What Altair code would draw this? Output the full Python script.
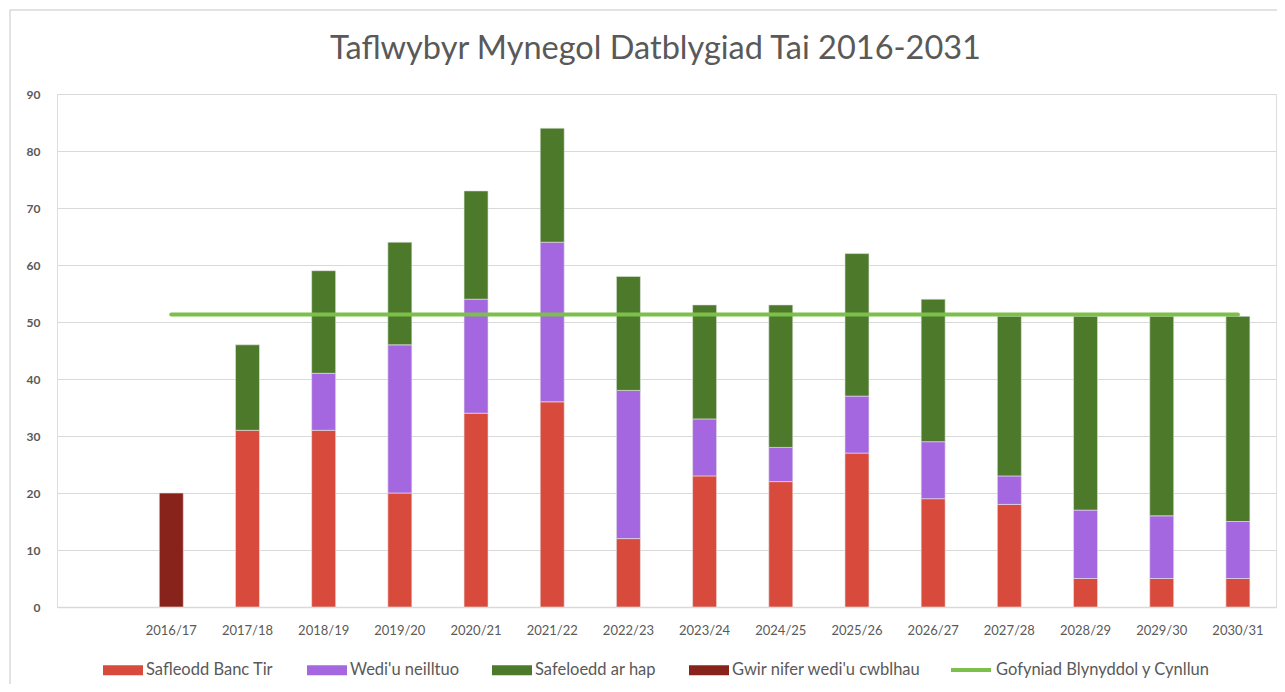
import altair as alt
import pandas as pd

years = ["2016/17", "2017/18", "2018/19", "2019/20", "2020/21", "2021/22", "2022/23",
         "2023/24", "2024/25", "2025/26", "2026/27", "2027/28", "2028/29", "2029/30", "2030/31"]
banc_tir = [0, 31, 31, 20, 34, 36, 12, 23, 22, 27, 19, 18, 5, 5, 5]
neilltuo = [0, 0, 10, 26, 20, 28, 26, 10, 6, 10, 10, 5, 12, 11, 10]
ar_hap = [0, 15, 18, 18, 19, 20, 20, 20, 25, 25, 25, 28, 34, 35, 36]
gwir = [20, 0, 0, 0, 0, 0, 0, 0, 0, 0, 0, 0, 0, 0, 0]
gofyniad = [51.3] * len(years)

series_names = ["Safleodd Banc Tir", "Wedi'u neilltuo", "Safeloedd ar hap", "Gwir nifer wedi'u cwblhau"]
series_colors = ["#D84B3C", "#A567E0", "#4C7A2A", "#88231B"]
series_order = [1, 2, 3, 0]
line_name = "Gofyniad Blynyddol y Cynllun"
line_color = "#7CC04B"

rows = []
for name, vals, o in zip(series_names, [banc_tir, neilltuo, ar_hap, gwir], series_order):
    for y, v in zip(years, vals):
        if v:
            rows.append({"year": y, "series": name, "value": v, "ord": o})
bars_df = pd.DataFrame(rows)
line_df = pd.DataFrame({"year": years, "value": gofyniad, "series": [line_name] * len(years)})

x_domain = [" "] + years
FONT = "Lato"
TXT = "#595959"

x_enc = alt.X("year:N", scale=alt.Scale(domain=x_domain, paddingInner=0, paddingOuter=0),
              axis=alt.Axis(title=None, labelAngle=0, labelFontSize=13, labelColor=TXT,
                            labelPadding=17, ticks=False, domainColor="#d9d9d9", domainWidth=1.5,
                            labelFont=FONT))

bars = alt.Chart(bars_df).mark_bar(size=24, stroke="#e6e6e6", strokeWidth=0.6).encode(
    x=x_enc,
    y=alt.Y("value:Q", stack="zero", scale=alt.Scale(domain=[0, 90]),
            axis=alt.Axis(title=None, values=list(range(0, 100, 10)), labelFontSize=12,
                          labelColor=TXT, labelPadding=17, ticks=False, domain=False,
                          gridColor="#d9d9d9", gridWidth=1.2, labelFont=FONT, labelFontWeight="bold")),
    fill=alt.Fill("series:N", scale=alt.Scale(domain=series_names, range=series_colors),
                  legend=alt.Legend(orient="none", legendX=46, legendY=556, direction="horizontal",
                                    columns=4, title=None, symbolType="M-1,-0.25H1V0.25H-1Z",
                                    symbolSize=1600, symbolStrokeWidth=0, labelFontSize=16.5,
                                    labelColor=TXT, labelFont=FONT, columnPadding=33,
                                    labelOffset=3, padding=0, labelLimit=400)),
    order=alt.Order("ord:Q", sort="ascending"),
)

line = alt.Chart(line_df).mark_line(strokeWidth=4, strokeCap="round").encode(
    x=alt.X("year:N", scale=alt.Scale(domain=x_domain)),
    y=alt.Y("value:Q"),
    stroke=alt.Stroke("series:N", scale=alt.Scale(domain=[line_name], range=[line_color]),
                      legend=alt.Legend(orient="none", legendX=892, legendY=554, title=None,
                                        symbolType="stroke", symbolSize=1600, symbolStrokeWidth=4,
                                        labelFontSize=16.5, labelColor=TXT, labelFont=FONT,
                                        labelOffset=3, padding=0, labelLimit=400)),
)

frame = alt.Chart(pd.DataFrame({"a": [0]})).mark_rect(fill=None, stroke="#d9d9d9", strokeWidth=1.5, clip=False).encode(
    x=alt.value(-47), x2=alt.value(1240), y=alt.value(-84), y2=alt.value(600)
)

chart = alt.layer(frame, bars, line).resolve_scale(fill="independent", stroke="independent").properties(
    width=1219, height=513,
    title=alt.TitleParams("Taflwybyr Mynegol Datblygiad Tai 2016-2031", fontSize=32.5, font=FONT,
                          fontWeight="normal", color=TXT, anchor="middle", dx=-11, offset=0,
                          dy=56, frame="group"),
    padding={"left": 49, "top": 86, "right": 1, "bottom": 77},
    autosize=alt.AutoSizeParams(type="none"),
).configure_view(stroke=None).configure(font=FONT)

chart.save("out.html", embed_options={"renderer": "svg", "actions": False})
